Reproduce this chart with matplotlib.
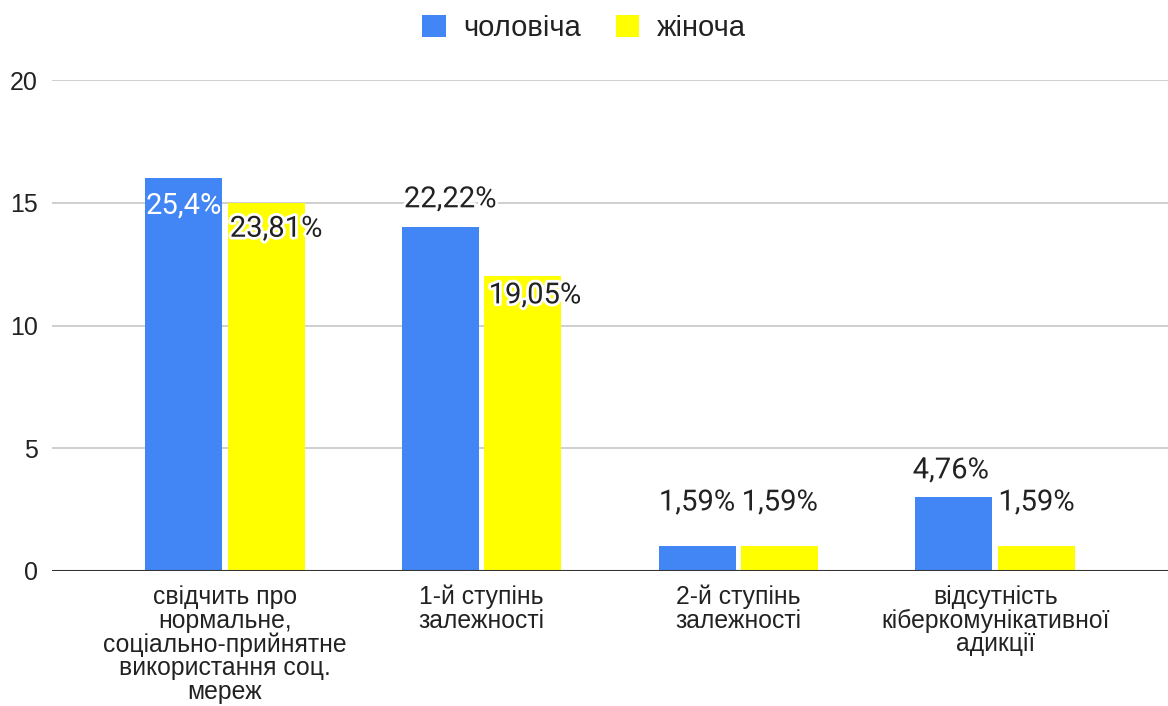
import numpy as np
import matplotlib
matplotlib.use('Agg')
import matplotlib.pyplot as plt
import matplotlib.patheffects as pe
from matplotlib.patches import Patch

# дані
categories = ['свідчить про\nнормальне,\nсоціально-прийнятне\nвикористання соц.\nмереж',
              '1-й ступінь\nзалежності',
              '2-й ступінь\nзалежності',
              'відсутність\nкіберкомунікативної\nадикції']
series_names = ['чоловіча', 'жіноча']
male = [16, 14, 1, 3]
female = [15, 12, 1, 1]
male_labels = ['25,4%', '22,22%', '1,59%', '4,76%']
female_labels = ['23,81%', '19,05%', '1,59%', '1,59%']

# зсуви підписів (пікселі)
male_off = [(0, -27), (10, 28), (0, 44), (-3, 27)]
female_off = [(10, -26), (12, -19), (0, 44), (0, 44)]
male_txt_col = ['white', '#222222', '#222222', '#222222']

blue = '#4285F4'
yellow = '#FFFF00'

plt.rcParams['font.family'] = ['Liberation Sans', 'DejaVu Sans']

fig = plt.figure(figsize=(11.68, 7.06), dpi=100)
ax = fig.add_axes([52 / 1168, 135 / 706, 1 - 52 / 1168, 491 / 706])

x = np.arange(len(categories))
w = 0.30
off = 0.161
b1 = ax.bar(x - off, male, w, color=blue, zorder=3)
b2 = ax.bar(x + off, female, w, color=yellow, zorder=3)

halo = [pe.withStroke(linewidth=4, foreground='white')]
for i in range(len(x)):
    ax.annotate(male_labels[i], (x[i] - off, male[i]), xytext=male_off[i],
                textcoords='offset pixels', ha='center', va='center',
                fontsize=21, family=['Roboto', 'DejaVu Sans'], color=male_txt_col[i],
                path_effects=None if male_txt_col[i] == 'white' else halo, zorder=5)
    ax.annotate(female_labels[i], (x[i] + off, female[i]), xytext=female_off[i],
                textcoords='offset pixels', ha='center', va='center',
                fontsize=21, family=['Roboto', 'DejaVu Sans'], color='#222222',
                path_effects=halo, zorder=5)

ax.set_xlim(-0.673, 3.673)
ax.set_ylim(0, 20)
ax.set_yticks([0, 5, 10, 15, 20])
ax.yaxis.grid(True, color='#cccccc', linewidth=1.3, zorder=0)
ax.set_axisbelow(True)
ax.axhline(0, color='#333333', linewidth=1.5, zorder=4)
for s in ax.spines.values():
    s.set_visible(False)
ax.tick_params(axis='y', length=0, pad=10, labelsize=18, labelcolor='#222222')
ax.tick_params(axis='x', length=0, pad=10, labelsize=17.8, labelcolor='#222222')
ax.set_xticks(x)
ax.set_xticklabels(categories, linespacing=0.98)

handles = [Patch(facecolor=blue, label=series_names[0]),
           Patch(facecolor=yellow, label=series_names[1])]
fig.legend(handles=handles, loc='center', bbox_to_anchor=(0.5, 1 - 28 / 706), ncol=2,
           frameon=False, fontsize=21, handlelength=0.8, handleheight=0.8,
           handletextpad=0.6, columnspacing=1.2, labelcolor='#222222')

fig.savefig('out.png', dpi=100)
